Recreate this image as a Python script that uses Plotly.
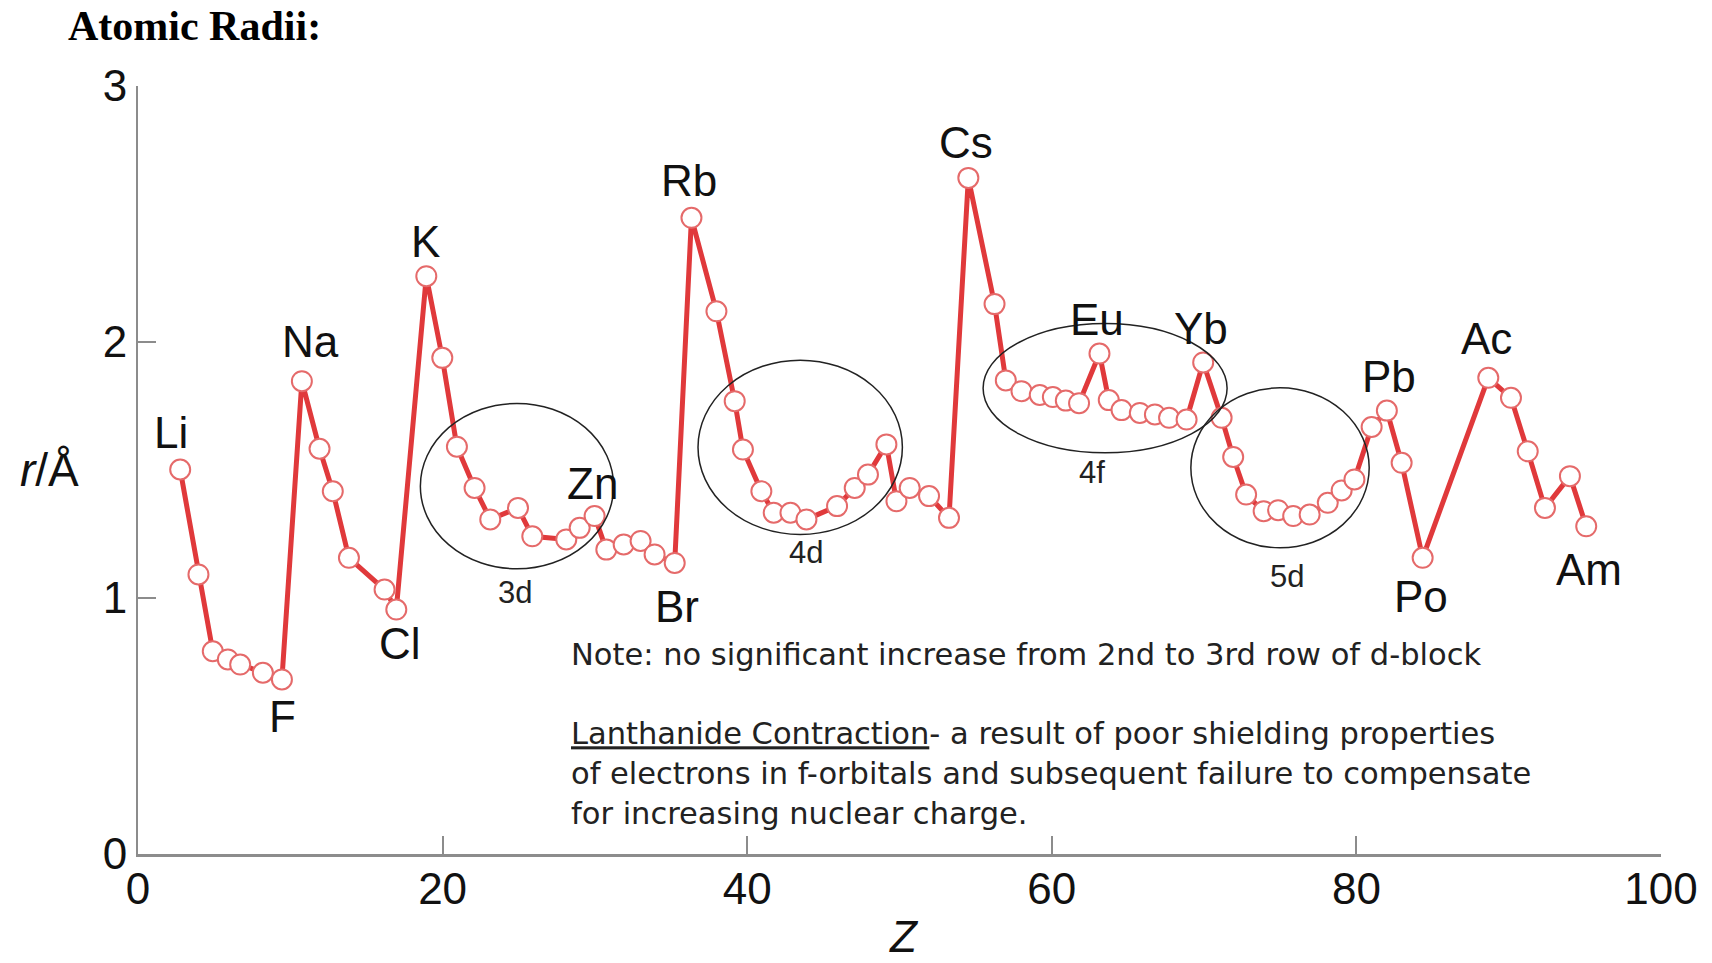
import plotly.graph_objects as go

# ---- data ----
Z = [2.77, 3.97, 4.91, 5.90, 6.71, 8.20, 9.45,
     10.76, 11.92, 12.79, 13.85, 16.19, 16.96,
     18.93, 19.98, 20.94, 22.10, 23.13, 24.95, 25.89, 28.12, 29.00, 29.98,
     30.75, 31.89, 33.00, 33.92, 35.24,
     36.34, 37.98, 39.18, 39.72, 40.93, 41.74, 42.84, 43.89, 45.90, 47.06, 47.93, 49.14,
     49.80, 50.67, 51.94, 53.25,
     54.52, 56.24, 56.98, 58.01, 59.21, 60.07, 60.92, 61.79, 63.13, 63.74, 64.58,
     65.78, 66.77, 67.70, 68.85, 69.94, 71.15,
     71.91, 72.76, 73.91, 74.86, 75.85, 76.93, 78.12, 79.03, 79.87,
     81.00, 82.00, 82.97, 84.35,
     88.66, 90.15, 91.25, 92.38, 94.02, 95.09]
radius = [1.502, 1.092, 0.792, 0.760, 0.740, 0.708, 0.682,
          1.847, 1.583, 1.417, 1.157, 1.033, 0.955,
          2.257, 1.938, 1.591, 1.430, 1.307, 1.352, 1.241, 1.229, 1.274, 1.320,
          1.189, 1.209, 1.223, 1.170, 1.137,
          2.485, 2.120, 1.769, 1.580, 1.417, 1.333, 1.333, 1.307, 1.359, 1.430, 1.482, 1.600,
          1.378, 1.430, 1.398, 1.313,
          2.641, 2.148, 1.850, 1.808, 1.793, 1.785, 1.771, 1.761, 1.955, 1.773, 1.734,
          1.723, 1.717, 1.704, 1.697, 1.920, 1.704,
          1.551, 1.404, 1.339, 1.343, 1.320, 1.326, 1.372, 1.420, 1.463,
          1.668, 1.732, 1.528, 1.157,
          1.860, 1.782, 1.573, 1.352, 1.476, 1.280]

label_names = ["Li", "Na", "K", "Rb", "Cs", "Eu", "Yb", "Pb", "Ac",
               "Zn", "Br", "Cl", "F", "Po", "Am"]
label_Z = [2.16, 11.34, 18.87, 36.16, 54.37, 62.97, 69.79, 82.12, 88.57,
           29.84, 35.36, 17.22, 9.48, 84.27, 95.30]
label_r = [1.645, 2.003, 2.391, 2.630, 2.779, 2.088, 2.054, 1.866, 2.012,
           1.448, 0.967, 0.821, 0.536, 1.005, 1.112]

block_names = ["3d", "4d", "4f", "5d"]
block_Z0 = [18.54, 36.77, 55.49, 69.13]
block_Z1 = [31.23, 50.19, 71.51, 80.84]
block_r0 = [1.114, 1.248, 1.567, 1.196]
block_r1 = [1.760, 1.929, 2.072, 1.821]
block_label_Z = [24.73, 43.89, 62.61, 75.42]
block_label_r = [1.020, 1.177, 1.489, 1.085]

x_ticks = [0, 20, 40, 60, 80, 100]
y_ticks = [0, 1, 2, 3]

note_Z = 28.28
note_r = 0.467
note_text = ("Note: no significant increase from 2nd to 3rd row of d-block<br><br>"
             "<u>Lanthanide Contraction</u>- a result of poor shielding properties<br>"
             "of electrons in f-orbitals and subsequent failure to compensate<br>"
             "for increasing nuclear charge.")

SANS = "Liberation Sans, Arial, sans-serif"
NOTE_FONT = "DejaVu Sans, Verdana, sans-serif"
LINE_RED = "#e0393b"
MARK_RED = "#e56a6a"
AXIS_GRAY = "#8c8c8c"

fig = go.Figure()
fig.add_trace(go.Scatter(
    x=Z, y=radius, mode="lines+markers",
    line=dict(color=LINE_RED, width=5),
    marker=dict(size=20, color="white", line=dict(color=MARK_RED, width=2)),
    hoverinfo="x+y", showlegend=False))

shapes = []
for z0, z1, r0, r1 in zip(block_Z0, block_Z1, block_r0, block_r1):
    shapes.append(dict(type="circle", xref="x", yref="y", x0=z0, x1=z1, y0=r0, y1=r1,
                       line=dict(color="#222222", width=1.5), fillcolor="rgba(0,0,0,0)",
                       layer="above"))

annotations = []
for name, zx, ry in zip(label_names, label_Z, label_r):
    annotations.append(dict(x=zx, y=ry, xref="x", yref="y", text=name, showarrow=False,
                            xanchor="center", yanchor="middle",
                            font=dict(family=SANS, size=44, color="#111111")))
for name, zx, ry in zip(block_names, block_label_Z, block_label_r):
    annotations.append(dict(x=zx, y=ry, xref="x", yref="y", text=name, showarrow=False,
                            xanchor="center", yanchor="middle",
                            font=dict(family=SANS, size=31, color="#222222")))
annotations.append(dict(x=note_Z, y=note_r, xref="x", yref="y", text=note_text,
                        showarrow=False, xanchor="left", yanchor="middle", align="left",
                        font=dict(family=NOTE_FONT, size=30.5, color="#222222")))
annotations.append(dict(x=-0.0578, y=1.5, xref="paper", yref="y",
                        text="<i>r</i>/Å", showarrow=False,
                        xanchor="center", yanchor="middle",
                        font=dict(family=SANS, size=46, color="#111111")))
annotations.append(dict(x=50.3, y=-0.108, xref="x", yref="paper",
                        text="<i>Z</i>", showarrow=False,
                        xanchor="center", yanchor="middle",
                        font=dict(family=SANS, size=44, color="#111111")))

fig.update_layout(
    width=1712, height=963,
    margin=dict(l=138, r=51, t=86, b=109),
    paper_bgcolor="white", plot_bgcolor="white",
    title=dict(text="<b>Atomic Radii:</b>", x=68 / 1712, xanchor="left",
               y=1 - 25 / 963, yanchor="middle",
               font=dict(family="Liberation Serif, Times New Roman, serif", size=42,
                         color="#000000")),
    xaxis=dict(range=[0, 100], tickvals=x_ticks, ticktext=[str(v) for v in x_ticks],
               showgrid=False, zeroline=False, showline=True, linecolor=AXIS_GRAY,
               linewidth=3, ticks="inside", ticklen=18, tickwidth=2, tickcolor=AXIS_GRAY,
               ticklabelstandoff=-6,
               tickfont=dict(family=SANS, size=44, color="#111111")),
    yaxis=dict(range=[0, 3], tickvals=y_ticks, ticktext=[str(v) for v in y_ticks],
               showgrid=False, zeroline=False, showline=True, linecolor=AXIS_GRAY,
               linewidth=2, ticks="inside", ticklen=18, tickwidth=2, tickcolor=AXIS_GRAY,
               tickfont=dict(family=SANS, size=44, color="#111111")),
    shapes=shapes, annotations=annotations,
)

fig.write_html("out.html", config={"displayModeBar": False},
               post_script="document.body.style.margin='0';document.body.style.overflow='hidden';")
